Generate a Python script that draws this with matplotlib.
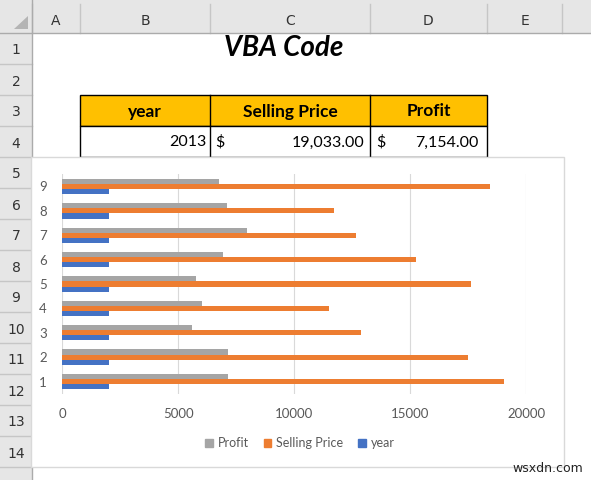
"""
Excel style sheet with a clustered bar chart (year, selling price, profit).
"""
import numpy as np
import matplotlib
matplotlib.use('Agg')
import matplotlib.pyplot as plt
from matplotlib.patches import Rectangle, Polygon, Patch

font = {'family': ['Lato', 'DejaVu Sans'], 'size': 9}
matplotlib.rc('font', **font)

# chart data (category 1 at bottom)
categories = [1, 2, 3, 4, 5, 6, 7, 8, 9]
year = [2013, 2014, 2015, 2016, 2017, 2018, 2019, 2020, 2021]
selling_price = [19033, 17490, 12870, 11490, 17620, 15240, 12660, 11720, 18440]
profit = [7154, 7130, 5590, 6020, 5760, 6930, 7960, 7100, 6750]
x_ticks = [0, 5000, 10000, 15000, 20000]

# table on the sheet
table_header = ['year', 'Selling Price', 'Profit']
table_row = ['2013', '19,033.00', '7,154.00']
col_letters = ['A', 'B', 'C', 'D', 'E']

W, H = 591, 480
col_edges = [32, 80, 210, 370, 487, 562]
row_top, row_h = 33, 31

hdr_bg = '#E6E6E6'
hdr_line = '#C6C6C6'
txt_grey = '#595959'
colors = {'year': '#4472C4', 'Selling Price': '#ED7D31', 'Profit': '#A5A5A5'}

fig = plt.figure(figsize=(W / 100, H / 100), dpi=100, facecolor='white')

# sheet layer in pixel coordinates
sh = fig.add_axes([0, 0, 1, 1])
sh.set_xlim(0, W)
sh.set_ylim(H, 0)
sh.axis('off')

# headers
sh.add_patch(Rectangle((0, 0), W, row_top, color=hdr_bg, lw=0))
sh.add_patch(Rectangle((0, 0), col_edges[0], H, color=hdr_bg, lw=0))
sh.add_patch(Polygon([[28, 29], [28, 16], [14, 29]], closed=True, color='#B4B4B4', lw=0))
for x in col_edges:
    sh.plot([x, x], [4, row_top], color=hdr_line, lw=1)
for i, c in enumerate(col_letters):
    sh.text((col_edges[i] + col_edges[i + 1]) / 2, 21, c, ha='center', va='center',
            fontsize=10, color='#333333', family=['DejaVu Sans'])
for r in range(1, 15):
    y0 = row_top + (r - 1) * row_h
    sh.plot([0, col_edges[0]], [y0 + row_h, y0 + row_h], color=hdr_line, lw=1)
    sh.text(16, y0 + row_h / 2 + 2, str(r), ha='center', va='center',
            fontsize=10, color='#333333', family=['DejaVu Sans'])
sh.plot([0, W], [row_top, row_top], color='#ABABAB', lw=1)
sh.plot([col_edges[0], col_edges[0]], [0, H], color='#ABABAB', lw=1)

# title (merged B1:D1)
sh.text((col_edges[1] + col_edges[4]) / 2, 48, 'VBA Code', ha='center', va='center',
        fontsize=20, fontweight='bold', style='italic', color='black')

# table
t_top = row_top + 2 * row_h
sh.add_patch(Rectangle((col_edges[1], t_top), col_edges[4] - col_edges[1], row_h,
                       facecolor='#FFC000', edgecolor='black', lw=1))
sh.add_patch(Rectangle((col_edges[1], t_top + row_h), col_edges[4] - col_edges[1], row_h,
                       facecolor='white', edgecolor='black', lw=1))
for x in col_edges[2:4]:
    sh.plot([x, x], [t_top, t_top + 2 * row_h], color='black', lw=1)
for i, lab in enumerate(table_header):
    sh.text((col_edges[i + 1] + col_edges[i + 2]) / 2, t_top + row_h / 2 + 1, lab,
            ha='center', va='center', fontsize=12.5, fontweight='bold')
yr = t_top + row_h * 1.5 + 1
sh.text(col_edges[2] - 4, yr, table_row[0], ha='right', va='center', fontsize=11.5)
sh.text(col_edges[2] + 5, yr, '$', ha='left', va='center', fontsize=11.5)
sh.text(col_edges[3] - 6, yr, table_row[1], ha='right', va='center', fontsize=11.5)
sh.text(col_edges[3] + 6, yr, '$', ha='left', va='center', fontsize=11.5)
sh.text(col_edges[4] - 9, yr, table_row[2], ha='right', va='center', fontsize=11.5)

# chart area
sh.add_patch(Rectangle((31, 157), 533, 310, facecolor='white', edgecolor='#D9D9D9', lw=1, zorder=5))
sh.text(548, 469, 'wsxdn.com', ha='center', va='center', fontsize=9, color='#222222',
        family=['DejaVu Sans'], zorder=6)

# plot area
left, right, top, bottom = 62.3, 526.3, 174.3, 393.7
ax = fig.add_axes([left / W, 1 - bottom / H, (right - left) / W, (bottom - top) / H])
ax.set_facecolor('none')
cats = np.array(categories)
h = 0.21
ax.barh(cats - h, year, height=h, color=colors['year'], zorder=3)
ax.barh(cats, selling_price, height=h, color=colors['Selling Price'], zorder=3)
ax.barh(cats + h, profit, height=h, color=colors['Profit'], zorder=3)
ax.set_xlim(0, 20000)
ax.set_ylim(0.5, 9.5)
ax.set_xticks(x_ticks)
ax.set_yticks(categories)
ax.grid(axis='x', color='#D9D9D9', lw=0.8, zorder=0)
ax.tick_params(length=0, colors=txt_grey, labelsize=9.5)
ax.tick_params(axis='y', pad=11)
ax.tick_params(axis='x', pad=10)
for s in ax.spines.values():
    s.set_visible(False)

handles = [Patch(color=colors[k]) for k in ['Profit', 'Selling Price', 'year']]
leg = fig.legend(handles, ['Profit', 'Selling Price', 'year'], loc='center',
                 bbox_to_anchor=(300 / W, 1 - 443 / H), ncol=3, frameon=False,
                 handlelength=0.6, handleheight=0.6, handletextpad=0.4,
                 columnspacing=1.2, fontsize=9)
for t in leg.get_texts():
    t.set_color(txt_grey)

plt.savefig('out.png', dpi=100)
plt.close()
